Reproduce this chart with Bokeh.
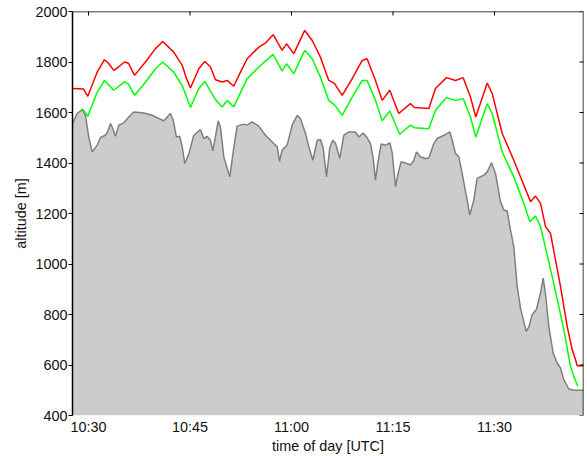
import math
from datetime import datetime, timedelta
from bokeh.plotting import figure
from bokeh.models import Range1d, FixedTicker, DatetimeTickFormatter, Span
from bokeh.embed import file_html
from bokeh.resources import INLINE

# ---- data: time in minutes after 10:00 UTC, altitude in metres ----
red_t = [27.64, 29.26, 29.9, 31.29, 32.36, 32.96, 33.74, 34.43, 35.32, 35.91,
         36.8, 38.42, 39.9, 40.98, 42.6, 43.85, 44.48, 45.07, 46.3, 47.19,
         48.03, 48.77, 49.76, 50.5, 51.47, 52.46, 53.45, 55.17, 56.16, 57.29,
         58.62, 59.26, 60.34, 61.96, 63.06, 64.28, 65.51, 66.35, 67.49, 68.97,
         70.45, 71.18, 72.41, 73.4, 74.52, 75.85, 77.58, 78.17, 80.29, 81.28,
         82.9, 84.23, 85.37, 86.45, 87.23, 88.92, 89.66, 91.14, 92.85, 94.33,
         95.32, 96.06, 96.8, 97.54, 98.27, 99.01, 99.75, 100.74, 101.48, 101.97,
         102.22, 103.15]
red_alt = [1695, 1693, 1664, 1760, 1809, 1795, 1767, 1780, 1800, 1795,
           1747, 1800, 1853, 1881, 1839, 1787, 1735, 1697, 1773, 1802,
           1780, 1730, 1721, 1727, 1704, 1760, 1813, 1859, 1875, 1908,
           1846, 1872, 1833, 1925, 1885, 1819, 1727, 1715, 1668, 1734,
           1806, 1813, 1727, 1648, 1688, 1596, 1635, 1620, 1616, 1695,
           1738, 1727, 1738, 1661, 1582, 1717, 1675, 1517, 1411, 1313,
           1247, 1269, 1240, 1148, 1122, 1016, 911, 753, 661, 621,
           597, 597]

green_t = [29.07, 29.9, 31.29, 32.36, 33.74, 35.32, 35.91, 36.8, 38.42, 39.9,
           40.98, 42.6, 43.85, 45.07, 46.3, 47.19, 48.77, 49.76, 50.5, 51.47,
           53.45, 55.17, 57.29, 58.62, 59.26, 60.34, 61.96, 63.06, 64.28, 65.51,
           66.35, 67.49, 68.97, 70.45, 71.18, 72.41, 73.4, 74.52, 75.99, 77.58,
           78.17, 80.29, 81.28, 82.9, 84.23, 85.37, 86.45, 87.23, 88.92, 89.66,
           91.14, 92.85, 94.33, 95.23, 96.06, 96.8, 97.54, 98.52, 99.5, 100.24,
           101.23, 101.72, 102.31]
green_alt = [1616, 1585, 1680, 1727, 1688, 1721, 1712, 1668, 1720, 1773,
             1800, 1760, 1707, 1620, 1695, 1723, 1651, 1622, 1648, 1622,
             1734, 1780, 1830, 1764, 1793, 1754, 1846, 1813, 1740, 1648,
             1630, 1589, 1661, 1727, 1727, 1648, 1567, 1606, 1514, 1550,
             1540, 1536, 1609, 1659, 1648, 1655, 1582, 1503, 1635, 1596,
             1444, 1345, 1240, 1167, 1190, 1148, 1064, 950, 832, 740,
             595, 555, 516]

terrain_t = [27.64, 28.33, 29.07, 29.56, 30.04, 30.55, 31.29, 31.77, 32.51, 32.85,
             33.25, 33.5, 33.99, 34.48, 35.22, 35.96, 36.69, 38.17, 39.41, 41.13,
             42.12, 42.52, 43.0, 43.49, 43.85, 44.23, 44.82, 45.56, 46.55, 47.04,
             47.54, 48.03, 48.37, 48.77, 49.17, 49.51, 50.0, 50.88, 51.47, 51.97,
             52.95, 53.45, 54.19, 55.17, 56.16, 57.38, 57.88, 58.23, 58.62, 59.36,
             60.1, 60.84, 61.33, 62.07, 62.56, 63.15, 63.8, 64.28, 64.68, 65.17,
             65.66, 66.1, 66.5, 67.14, 67.73, 68.47, 69.46, 69.95, 70.59, 71.18,
             71.67, 72.07, 72.41, 72.75, 73.25, 73.89, 74.52, 74.88, 75.37, 75.85,
             76.21, 76.85, 77.58, 78.07, 78.47, 79.06, 79.8, 80.29, 81.03, 81.53,
             82.76, 83.4, 83.75, 84.23, 84.72, 85.22, 85.96, 86.34, 86.94, 87.43,
             88.42, 88.92, 89.56, 90.15, 90.88, 91.37, 91.87, 92.36, 92.85, 93.35,
             93.84, 94.68, 95.07, 95.57, 96.2, 96.8, 97.19, 97.54, 98.02, 98.67,
             99.26, 99.75, 100.24, 100.98, 101.8, 103.15]
terrain_alt = [1556, 1596, 1612, 1589, 1503, 1444, 1471, 1501, 1510, 1525,
               1556, 1543, 1506, 1550, 1559, 1582, 1602, 1598, 1589, 1567,
               1596, 1570, 1503, 1506, 1464, 1398, 1435, 1510, 1532, 1497,
               1505, 1490, 1448, 1505, 1567, 1540, 1424, 1345, 1460, 1546,
               1554, 1550, 1563, 1546, 1510, 1477, 1465, 1407, 1451, 1471,
               1550, 1589, 1576, 1517, 1464, 1411, 1490, 1493, 1460, 1345,
               1460, 1490, 1478, 1418, 1510, 1523, 1523, 1503, 1519, 1500,
               1477, 1420, 1332, 1400, 1475, 1470, 1480, 1440, 1306, 1370,
               1405, 1400, 1392, 1410, 1444, 1424, 1418, 1420, 1477, 1497,
               1513, 1523, 1490, 1438, 1425, 1358, 1253, 1194, 1253, 1339,
               1352, 1365, 1401, 1358, 1247, 1214, 1210, 1135, 1069, 911,
               825, 733, 750, 799, 821, 885, 944, 880, 753, 647,
               608, 588, 542, 505, 500, 500]

x_tick_labels = ["10:30", "10:45", "11:00", "11:15", "11:30"]
y_ticks = [400, 600, 800, 1000, 1200, 1400, 1600, 1800, 2000]
x_start_min, x_end_min = 27.64, 103.15
y_start, y_end = 400, 2000

assert len(red_t) == len(red_alt)
assert len(green_t) == len(green_alt)
assert len(terrain_t) == len(terrain_alt)

BASE = datetime(2000, 1, 1, 10, 0)
EPOCH = datetime(1970, 1, 1)


def to_dt(m):
    return BASE + timedelta(minutes=m)


def label_dt(lbl):
    h, mm = lbl.split(":")
    return datetime(2000, 1, 1, int(h), int(mm))


FONT = "Liberation Sans"
FS = "14.4px"
TXT = "#111111"

p = figure(width=587, height=456, output_backend="svg", toolbar_location=None,
           x_axis_type="datetime",
           x_range=Range1d(to_dt(x_start_min), to_dt(x_end_min)),
           y_range=Range1d(y_start, y_end),
           min_border_left=72, min_border_right=4, min_border_top=11,
           min_border_bottom=40)
p.outline_line_color = None
p.grid.visible = False
p.background_fill_color = "white"
p.border_fill_color = "white"

# terrain
tt = [to_dt(m) for m in terrain_t]
p.varea(x=tt, y1=[y_start] * len(tt), y2=terrain_alt, fill_color="#cccccc")
p.line(tt, terrain_alt, line_color="#7f7f7f", line_width=1.5)
# altitudes
p.line([to_dt(m) for m in red_t], red_alt, line_color="#ff0000", line_width=1.5)
p.line([to_dt(m) for m in green_t], green_alt, line_color="#00ff00", line_width=1.5)

# box: top and right edges
x_end_ms = (to_dt(x_end_min) - EPOCH).total_seconds() * 1000.0
p.add_layout(Span(location=y_end, dimension="width", line_color="black",
                  line_width=1.5))
p.add_layout(Span(location=x_end_ms, dimension="height", line_color="black",
                  line_width=1.5))

# inward ticks on top and right edges (half of each dash is clipped by the frame)
tick_dts = [label_dt(s) for s in x_tick_labels]
p.scatter(x=tick_dts, y=[y_end] * len(tick_dts), marker="dash", size=8,
          angle=math.pi / 2, line_color="black", line_width=1)
p.scatter(x=[to_dt(x_end_min)] * len(y_ticks), y=y_ticks, marker="dash", size=8,
          line_color="black", line_width=1)

x_ticks_ms = [(d - EPOCH).total_seconds() * 1000.0 for d in tick_dts]
fmt = DatetimeTickFormatter(minutes="%H:%M", hourmin="%H:%M", hours="%H:%M",
                            minsec="%H:%M", seconds="%H:%M")

# bottom axis
xa = p.below[0]
xa.ticker = FixedTicker(ticks=x_ticks_ms)
xa.formatter = fmt
xa.axis_line_color = None
xa.major_tick_in = 0
xa.major_tick_out = 0
xa.minor_tick_line_color = None
xa.major_label_standoff = 3
xa.major_label_text_font = FONT
xa.major_label_text_font_size = FS
xa.major_label_text_color = TXT
xa.axis_label = "time of day [UTC]"
xa.axis_label_text_font = FONT
xa.axis_label_text_font_size = FS
xa.axis_label_text_font_style = "normal"
xa.axis_label_text_color = TXT
xa.axis_label_standoff = 0

# left axis
ya = p.left[0]
ya.ticker = FixedTicker(ticks=y_ticks)
ya.axis_line_color = "black"
ya.axis_line_width = 1.5
ya.major_tick_in = 0
ya.major_tick_out = 4
ya.major_tick_line_color = "black"
ya.minor_tick_line_color = None
ya.major_label_standoff = 1
ya.major_label_text_font = FONT
ya.major_label_text_font_size = FS
ya.major_label_text_color = TXT
ya.axis_label = "altitude [m]"
ya.axis_label_text_font = FONT
ya.axis_label_text_font_size = FS
ya.axis_label_text_font_style = "normal"
ya.axis_label_text_color = TXT
ya.axis_label_standoff = 3

open("out.html", "w").write(file_html(p, INLINE))
